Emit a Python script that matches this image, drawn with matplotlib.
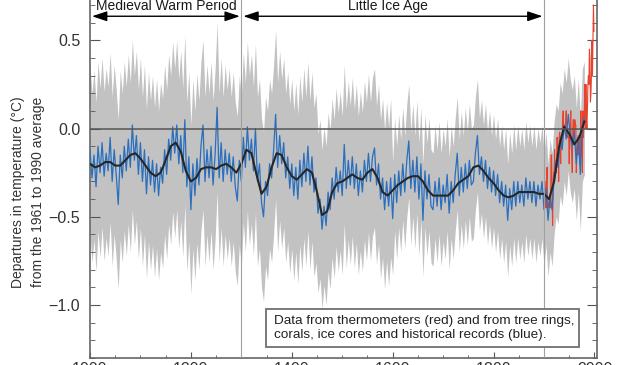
import numpy as np
import matplotlib
matplotlib.use("Agg")
import matplotlib.pyplot as plt
from matplotlib.ticker import MultipleLocator
from matplotlib.patches import Rectangle

plt.rcParams["font.family"] = ["Liberation Sans", "DejaVu Sans"]

# ── data ───────────────────────────────────────────────────
# proxy reconstruction (blue), one value every 4 years, 1000-1980
recon_years = np.arange(1000, 1981, 4)
recon_temp = [
    -0.12, -0.28, -0.15, -0.33, -0.10, -0.25, -0.08, -0.27, -0.14, -0.24,
    -0.05, -0.30, -0.12, -0.26, -0.43, -0.15, -0.28, -0.10, -0.24, -0.06,
    -0.22, 0.02, -0.18, -0.04, -0.26, -0.08, -0.30, -0.12, -0.37, -0.16,
    -0.32, -0.18, -0.36, -0.20, -0.38, -0.22, -0.31, -0.12, -0.26, -0.06,
    -0.18, 0.01, -0.14, 0.02, -0.20, -0.04, -0.25, 0.05, -0.33, -0.16,
    -0.46, -0.20, -0.38, -0.17, -0.32, -0.10, 0.02, -0.30, -0.12, -0.28,
    -0.10, -0.32, -0.15, 0.12, -0.28, -0.08, -0.30, -0.12, -0.26, -0.14,
    -0.30, -0.16, -0.33, -0.41, -0.18, -0.30, -0.05, -0.22, 0.01, -0.18,
    -0.06, -0.24, 0.00, -0.30, -0.20, -0.42, -0.50, -0.30, -0.38, -0.20,
    -0.28, -0.12, 0.08, -0.22, -0.04, -0.20, -0.08, -0.28, -0.16, -0.34,
    -0.20, -0.38, -0.22, -0.40, -0.18, -0.33, -0.14, -0.30, -0.10, -0.32,
    -0.16, -0.36, -0.28, -0.48, -0.40, -0.57, -0.44, -0.55, -0.36, -0.46,
    -0.28, -0.40, -0.22, -0.36, -0.24, -0.38, -0.09, -0.34, -0.18, -0.32,
    -0.16, -0.34, -0.20, -0.38, -0.24, -0.36, -0.18, -0.30, -0.14, -0.30,
    -0.16, -0.11, -0.32, -0.20, -0.40, -0.28, -0.46, -0.30, -0.44, -0.28,
    -0.51, -0.26, -0.42, -0.24, -0.38, -0.20, -0.36, -0.18, -0.07, -0.34,
    -0.18, -0.36, -0.16, -0.40, -0.20, -0.52, -0.24, -0.40, -0.26, -0.44,
    -0.46, -0.30, -0.44, -0.28, -0.46, -0.32, -0.42, -0.26, -0.48, -0.30,
    -0.42, -0.26, -0.14, -0.38, -0.22, -0.36, -0.20, -0.34, -0.18, -0.32,
    -0.30, -0.14, -0.04, -0.26, -0.16, -0.30, -0.18, -0.34, -0.22, -0.36,
    -0.24, -0.38, -0.26, -0.42, -0.30, -0.44, -0.32, -0.52, -0.34, -0.46,
    -0.30, -0.44, -0.30, -0.42, -0.32, -0.44, -0.28, -0.40, -0.30, -0.42,
    -0.30, -0.44, -0.32, -0.40, -0.30, -0.46, -0.34, -0.52, -0.38, -0.46,
    -0.28, -0.18, -0.22, -0.06, -0.12, 0.02, -0.06, 0.08, -0.04, -0.10,
    -0.02, -0.20, -0.04, -0.26, 0.02, 0.06,
]

# 2-sigma uncertainty of the reconstruction (grey band), by period
err_breaks = [1450, 1600]
err_2sigma = [0.48, 0.45, 0.32]

# 40-year smoothed reconstruction (black), every 10 years
smooth_years = np.arange(1000, 1981, 10)
smooth_temp = [
    -0.20, -0.22, -0.21, -0.19, -0.19, -0.21, -0.21, -0.18, -0.15, -0.14,
    -0.17, -0.21, -0.25, -0.27, -0.25, -0.18, -0.10, -0.08, -0.13, -0.24,
    -0.30, -0.28, -0.23, -0.22, -0.22, -0.23, -0.21, -0.20, -0.22, -0.25,
    -0.20, -0.12, -0.14, -0.26, -0.37, -0.33, -0.22, -0.14, -0.15, -0.22,
    -0.27, -0.29, -0.26, -0.23, -0.25, -0.36, -0.49, -0.47, -0.36, -0.31,
    -0.30, -0.28, -0.26, -0.28, -0.29, -0.25, -0.23, -0.28, -0.36, -0.38,
    -0.35, -0.32, -0.30, -0.28, -0.27, -0.27, -0.30, -0.35, -0.38, -0.38,
    -0.38, -0.38, -0.35, -0.31, -0.29, -0.27, -0.22, -0.21, -0.24, -0.28,
    -0.31, -0.35, -0.38, -0.39, -0.38, -0.36, -0.36, -0.36, -0.36, -0.37,
    -0.37, -0.40, -0.30, -0.10, 0.01, -0.03, -0.09, -0.05, 0.04,
]

# thermometer record (red), annual 1902-1999
instr_years = np.arange(1902, 2000)
instr_temp = [
    -0.30, -0.38, -0.45, -0.30, -0.22, -0.45, -0.42, -0.45, -0.40, -0.40,
    -0.45, -0.40, -0.15, -0.15, -0.35, -0.55, -0.35, -0.25, -0.25, -0.12,
    -0.25, -0.22, -0.25, -0.15, -0.05, -0.12, -0.10, -0.30, -0.05, -0.02,
    -0.05, -0.20, -0.05, -0.10, -0.05, 0.05, 0.10, 0.00, 0.00, 0.00,
    0.00, 0.05, 0.10, 0.00, -0.05, 0.00, -0.05, -0.05, -0.20, -0.05,
    0.00, 0.10, -0.10, -0.15, -0.25, 0.00, 0.05, 0.00, -0.05, 0.05,
    0.02, 0.02, -0.25, -0.15, -0.10, -0.05, -0.15, -0.05, -0.05, -0.20,
    -0.15, 0.10, -0.15, -0.05, -0.25, 0.10, -0.05, 0.05, 0.10, 0.25,
    0.00, 0.25, 0.05, 0.00, 0.10, 0.25, 0.30, 0.25, 0.45, 0.40,
    0.15, 0.20, 0.30, 0.50, 0.30, 0.50, 0.70, 0.55,
]

periods = [("Medieval Warm Period", 1000, 1300), ("Little Ice Age", 1300, 1900)]
x_ticks = [1000, 1200, 1400, 1600, 1800, 2000]
y_ticks = [-1.0, -0.5, 0.0, 0.5, 1.0]

# ── figure ─────────────────────────────────────────────────
fig = plt.figure(figsize=(6.31, 3.65), dpi=100)
# the axes run past the top edge: the picture is a crop of a taller chart
ax = fig.add_axes([0.1426, 0.0192, 0.8035, 1.1123])
ax.set_xlim(1000, 2005)
ax.set_ylim(-1.3, 1.0)

recon = np.array(recon_temp)
err = np.array(err_2sigma)[np.searchsorted(err_breaks, recon_years, side="right")]
ax.fill_between(recon_years, recon - err, recon + err, color="#c2c2c2",
                lw=0, zorder=1)

ax.plot(instr_years, instr_temp, color="#e8412c", lw=0.8, zorder=2)
ax.plot(recon_years, recon, color="#2a6fbd", lw=0.9, zorder=3)
ax.plot(smooth_years, smooth_temp, color="#262626", lw=1.5, zorder=4)

ax.axhline(0.0, color="#555555", lw=1.1, zorder=5)
ax.axvline(periods[0][2], color="#a0a0a0", lw=0.8, zorder=5)
ax.axvline(periods[1][2], color="#a0a0a0", lw=0.8, zorder=5)

for label, start, end in periods:
    ax.annotate("", xy=(end - 3, 0.636), xytext=(start + 4, 0.636),
                arrowprops=dict(arrowstyle="<|-|>,head_length=0.9,head_width=0.3",
                                color="black", lw=1.0, shrinkA=0, shrinkB=0,
                                mutation_scale=10), zorder=6)
ax.text(1151, 0.672, periods[0][0], ha="center", va="baseline",
        fontsize=10, color="#1a1a1a", zorder=6)
ax.text(1590, 0.672, periods[1][0], ha="center", va="baseline",
        fontsize=10, color="#1a1a1a", zorder=6)

ax.add_patch(Rectangle((1349, -1.24), 621, 0.22, facecolor="white",
                       edgecolor="#707070", lw=1.3, zorder=7))
ax.text(1365, -1.13,
        "Data from thermometers (red) and from tree rings,\n"
        "corals, ice cores and historical records (blue).",
        ha="left", va="center", fontsize=9.7, linespacing=1.25,
        color="#222222", zorder=8)

ax.set_xticks(x_ticks)
ax.xaxis.set_minor_locator(MultipleLocator(50))
ax.set_yticks(y_ticks)
ax.set_yticklabels([f"{v:.1f}".replace("-", "\u2212") for v in y_ticks])
ax.yaxis.set_minor_locator(MultipleLocator(0.1))
ax.tick_params(axis="y", which="both", direction="in", left=True, right=True,
               labelsize=11.5, pad=7, colors="#555555", labelcolor="#333333")
ax.tick_params(axis="y", which="major", length=7)
ax.tick_params(axis="y", which="minor", length=3.6)
ax.tick_params(axis="x", which="both", direction="in", top=False,
               labelsize=11.5, pad=3, colors="#555555", labelcolor="#333333")
ax.tick_params(axis="x", which="major", length=4.3)
ax.tick_params(axis="x", which="minor", length=2.2)
for side in ax.spines.values():
    side.set_color("#666666")
    side.set_linewidth(1.2)

fig.text(28 / 631, 1 - 192 / 365,
         "Departures in temperature (\u00b0C)\nfrom the 1961 to 1990 average",
         rotation=90, ha="center", va="center", fontsize=10, linespacing=1.5,
         color="#333333")

fig.savefig("out.png", dpi=100)
